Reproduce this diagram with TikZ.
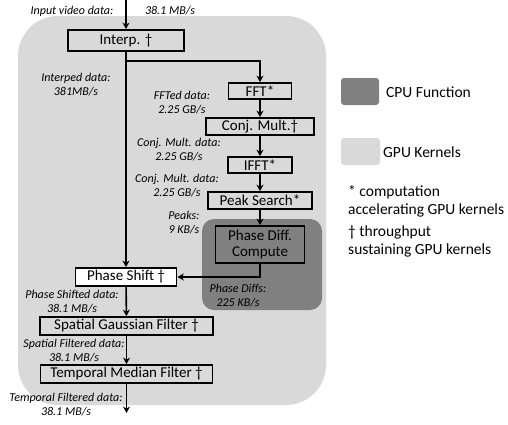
\documentclass[tikz,border=0pt]{standalone}
\usepackage{fontspec}
\setmainfont{Carlito}
\usetikzlibrary{arrows.meta}
\definecolor{gpugray}{RGB}{217,217,217}
\definecolor{cpugray}{RGB}{128,128,128}

\begin{document}
\begin{tikzpicture}[
x=1pt, y=-1pt,
kern/.style = {
	draw,
	line width=1.8pt,
	align=center,
	inner sep=0pt,
	font=\fontsize{15}{16}\selectfont
	},
rate/.style = {
	align=center,
	inner sep=0pt,
	font=\fontsize{12}{14}\selectfont\itshape
	},
key/.style = {
	align=left,
	inner sep=0pt,
	font=\fontsize{15.5}{18}\selectfont
	},
flowArr/.style = {
	-{Stealth[length=6.5pt,width=7pt]},
	line width=1.6pt
	}
]
\useasboundingbox (0,0) rectangle (508,424);

% BACKGROUND REGIONS
\fill [gpugray, rounded corners=40pt] (18,16) rectangle (326,405);
\fill [cpugray, rounded corners=12pt] (202,219) rectangle (322,310);

% KERNEL NODES
\node [kern, minimum width=116pt, minimum height=21pt] (interp) at (126,40.5) {Interp. \textdagger};
\node [kern, minimum width=63pt, minimum height=16pt] (fft) at (260,91) {FFT*};
\node [kern, minimum width=108pt, minimum height=17pt] (conj) at (260,126.5) {Conj. Mult.\textdagger};
\node [kern, minimum width=64pt, minimum height=16pt] (ifft) at (260,165) {IFFT*};
\node [kern, minimum width=104pt, minimum height=17pt] (peak) at (260,200.5) {Peak Search*};
\node [kern, fill=cpugray, minimum width=89pt, minimum height=37pt] (pdiff) at (260,244.5) {Phase Diff.\\Compute};
\node [kern, fill=white, minimum width=101pt, minimum height=18pt] (pshift) at (126,277) {Phase Shift \textdagger};
\node [kern, minimum width=173pt, minimum height=18pt] (spatial) at (126.5,326) {Spatial Gaussian Filter \textdagger};
\node [kern, minimum width=172pt, minimum height=18pt] (temporal) at (126.5,374) {Temporal Median Filter \textdagger};

% RATE LABELS
\node [rate] (inA) at (72,11) {Input video data:};
\node [rate] (inB) at (170,11) {38.1 MB/s};
\node [rate] (rInterp) at (76,85) {Interped data:\\381MB/s};
\node [rate] (rFft) at (182,103) {FFTed data:\\2.25 GB/s};
\node [rate] (rConj) at (179,150) {Conj. Mult. data:\\2.25 GB/s};
\node [rate] (rIfft) at (177,186) {Conj. Mult. data:\\2.25 GB/s};
\node [rate] (rPeak) at (184,223) {Peaks:\\9 KB/s};
\node [rate] (rDiff) at (238,296) {Phase Diffs:\\225 KB/s};
\node [rate] (rShift) at (72,302) {Phase Shifted data:\\38.1 MB/s};
\node [rate] (rSpatial) at (74,350.5) {Spatial Filtered data:\\38.1 MB/s};
\node [rate] (rTemporal) at (66,405) {Temporal Filtered data:\\38.1 MB/s};

% LEGEND
\node [fill=cpugray, rounded corners=3pt, minimum width=38pt, minimum height=27pt] (cpuKey) at (360,91.5) {};
\node [key, anchor=west] (cpuTxt) at (386,92) {CPU Function};
\node [fill=gpugray, rounded corners=3pt, minimum width=39pt, minimum height=27pt] (gpuKey) at (360.5,151.5) {};
\node [key, anchor=west] (gpuTxt) at (383,152) {GPU Kernels};
\node [key, anchor=west] (starTxt) at (348,201) {* computation\\accelerating GPU kernels};
\node [key, anchor=west] (dagTxt) at (348,241) {\textdagger{} throughput\\sustaining GPU kernels};

% PATHS
\coordinate (src) at (126,0);
\coordinate (split) at (126,61);
\coordinate (sink) at (126.5,413);
\draw [flowArr] (src) to (interp);
\draw [flowArr] (interp) to (pshift);
\draw [flowArr] (split) -| (fft);
\path [flowArr] (fft) edge (conj) (conj) edge (ifft) (ifft) edge (peak) (peak) edge (pdiff);
\draw [flowArr] (pdiff.south) |- (pshift.east);
\path [flowArr] (pshift) edge (spatial) (spatial) edge (temporal);
\draw [flowArr] (temporal) to (sink);
\end{tikzpicture}
\end{document}
